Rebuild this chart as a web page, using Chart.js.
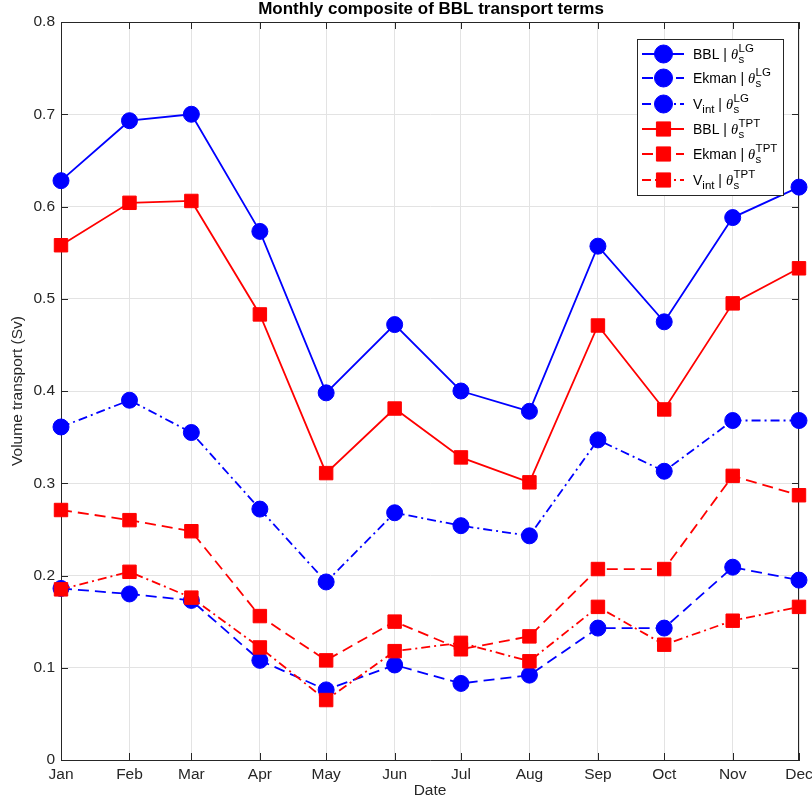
<!DOCTYPE html>
<html>
<head>
<meta charset="utf-8">
<script src="https://cdn.jsdelivr.net/npm/chart.js@4/dist/chart.umd.min.js"></script>
<style>
  html, body { margin: 0; padding: 0; background: #ffffff; }
  canvas { display: block; }
</style>
</head>
<body>
<canvas id="chart" width="812" height="804"></canvas>
<script>
// Month ticks sit on the first day of each month (day offset from 1 Jan)
const months = ['Jan', 'Feb', 'Mar', 'Apr', 'May', 'Jun', 'Jul', 'Aug', 'Sep', 'Oct', 'Nov', 'Dec'];
const monthStartDay = [0, 31, 59, 90, 120, 151, 181, 212, 243, 273, 304, 334];

const yTicks = [0, 0.1, 0.2, 0.3, 0.4, 0.5, 0.6, 0.7, 0.8];
const yTickLabels = ['0', '0.1', '0.2', '0.3', '0.4', '0.5', '0.6', '0.7', '0.8'];

// Monthly composites (Sv), theta_s from LG
const bblLG   = [0.628, 0.693, 0.700, 0.573, 0.398, 0.472, 0.400, 0.378, 0.557, 0.475, 0.588, 0.621];
const ekmanLG = [0.186, 0.180, 0.173, 0.108, 0.076, 0.103, 0.083, 0.092, 0.143, 0.143, 0.209, 0.195];
const vintLG  = [0.361, 0.390, 0.355, 0.272, 0.193, 0.268, 0.254, 0.243, 0.347, 0.313, 0.368, 0.368];

// Monthly composites (Sv), theta_s from TPT
const bblTPT   = [0.558, 0.604, 0.606, 0.483, 0.311, 0.381, 0.328, 0.301, 0.471, 0.380, 0.495, 0.533];
const ekmanTPT = [0.271, 0.260, 0.248, 0.156, 0.108, 0.150, 0.120, 0.134, 0.207, 0.207, 0.308, 0.287];
const vintTPT  = [0.185, 0.204, 0.176, 0.122, 0.065, 0.118, 0.127, 0.107, 0.166, 0.125, 0.151, 0.166];

const FONT = '"Liberation Sans", Arial, Helvetica, sans-serif';
const AXIS_COLOR = '#262626';
const BLUE = '#0000ff';
const RED = '#ff0000';
const DASHED = [11, 6];
const DASHDOT = [9, 4, 2, 4];

function series(values) {
  return monthStartDay.map((d, i) => ({ x: d, y: values[i] }));
}

function makeDataset(label, values, color, marker, dash, legendHead, legendHeadSub, legendSup, order) {
  const isRect = marker === 'rect';
  return {
    label: label,
    data: series(values),
    borderColor: color,
    backgroundColor: color,
    borderWidth: 1.8,
    borderDash: dash,
    pointStyle: marker,
    pointRadius: isRect ? 9.5 : 8,
    pointHoverRadius: isRect ? 9.5 : 8,
    pointBorderWidth: 1,
    pointBackgroundColor: color,
    pointBorderColor: color,
    tension: 0,
    fill: false,
    clip: false,
    order: order,
    legendHead: legendHead,
    legendHeadSub: legendHeadSub,
    legendSup: legendSup
  };
}

const datasets = [
  makeDataset('BBL | θs LG',   bblLG,    BLUE, 'circle', [],      'BBL',   null,  'LG',  6),
  makeDataset('Ekman | θs LG', ekmanLG,  BLUE, 'circle', DASHED,  'Ekman', null,  'LG',  5),
  makeDataset('Vint | θs LG',  vintLG,   BLUE, 'circle', DASHDOT, 'V',     'int', 'LG',  4),
  makeDataset('BBL | θs TPT',  bblTPT,   RED,  'rect',   [],      'BBL',   null,  'TPT', 3),
  makeDataset('Ekman | θs TPT', ekmanTPT, RED, 'rect',   DASHED,  'Ekman', null,  'TPT', 2),
  makeDataset('Vint | θs TPT', vintTPT,  RED,  'rect',   DASHDOT, 'V',     'int', 'TPT', 1)
];

// Frame, inward tick marks and axis titles
const framePlugin = {
  id: 'frame',
  beforeDatasetsDraw(chart) {
    const { ctx, chartArea: a, scales } = chart;
    ctx.save();
    ctx.strokeStyle = AXIS_COLOR;
    ctx.lineWidth = 1;
    ctx.beginPath();
    ctx.moveTo(a.left, a.top + 0.5); ctx.lineTo(a.right, a.top + 0.5);
    ctx.moveTo(a.right - 0.5, a.top); ctx.lineTo(a.right - 0.5, a.bottom);
    const tl = 7;
    monthStartDay.forEach(v => {
      const px = Math.round(scales.x.getPixelForValue(v)) + 0.5;
      ctx.moveTo(px, a.bottom); ctx.lineTo(px, a.bottom - tl);
      ctx.moveTo(px, a.top); ctx.lineTo(px, a.top + tl);
    });
    yTicks.forEach(v => {
      const py = Math.round(scales.y.getPixelForValue(v)) + 0.5;
      ctx.moveTo(a.left, py); ctx.lineTo(a.left + tl, py);
      ctx.moveTo(a.right, py); ctx.lineTo(a.right - tl, py);
    });
    ctx.stroke();
    ctx.restore();
  },
  afterDraw(chart) {
    const { ctx, chartArea: a } = chart;
    const cx = (a.left + a.right) / 2;
    ctx.save();
    ctx.fillStyle = '#000000';
    ctx.textAlign = 'center';
    ctx.textBaseline = 'alphabetic';
    ctx.font = 'bold 17px ' + FONT;
    ctx.fillText('Monthly composite of BBL transport terms', cx + 1, 14);

    ctx.fillStyle = AXIS_COLOR;
    ctx.font = '15.5px ' + FONT;
    ctx.textBaseline = 'middle';
    ctx.fillText('Date', cx, 791);
    ctx.translate(18, (a.top + a.bottom) / 2);
    ctx.rotate(-Math.PI / 2);
    ctx.fillText('Volume transport (Sv)', 0, 0);
    ctx.restore();
  }
};

// Legend box with theta_s sub/superscripts
const legendPlugin = {
  id: 'richLegend',
  afterDatasetsDraw(chart) {
    const { ctx } = chart;
    const box = { x: 637, y: 39, w: 146, h: 156 };
    const rowY = [54, 78, 104, 129, 154, 180];
    ctx.save();
    ctx.fillStyle = '#ffffff';
    ctx.fillRect(box.x, box.y, box.w, box.h);
    ctx.strokeStyle = AXIS_COLOR;
    ctx.lineWidth = 1;
    ctx.strokeRect(box.x + 0.5, box.y + 0.5, box.w, box.h);

    chart.data.datasets.forEach((ds, i) => {
      const y = rowY[i];
      // line sample
      ctx.save();
      ctx.strokeStyle = ds.borderColor;
      ctx.lineWidth = ds.borderWidth;
      ctx.setLineDash(ds.borderDash || []);
      ctx.beginPath();
      ctx.moveTo(642, y); ctx.lineTo(684, y);
      ctx.stroke();
      ctx.restore();
      // marker sample
      ctx.save();
      ctx.fillStyle = ds.pointBackgroundColor;
      ctx.strokeStyle = ds.pointBorderColor;
      ctx.lineWidth = 1;
      const r = ds.pointStyle === 'rect' ? 10 : 9;
      Chart.helpers.drawPoint(ctx, { pointStyle: ds.pointStyle, radius: r, borderWidth: 1, rotation: 0 }, 663.5, y);
      ctx.restore();

      // text
      const base = y + 5;
      let x = 693;
      ctx.fillStyle = '#000000';
      ctx.textAlign = 'left';
      ctx.textBaseline = 'alphabetic';
      ctx.font = '14px ' + FONT;
      ctx.fillText(ds.legendHead, x, base);
      x += ctx.measureText(ds.legendHead).width;
      if (ds.legendHeadSub) {
        ctx.font = '11.5px ' + FONT;
        ctx.fillText(ds.legendHeadSub, x, base + 4);
        x += ctx.measureText(ds.legendHeadSub).width;
      }
      ctx.font = '14px ' + FONT;
      ctx.fillText(' | ', x, base);
      x += ctx.measureText(' | ').width;
      ctx.font = 'italic 14.5px "Liberation Serif", "Times New Roman", serif';
      ctx.fillText('θ', x, base);
      x += ctx.measureText('θ').width + 0.5;
      ctx.font = '11.5px ' + FONT;
      ctx.fillText('s', x, base + 4);
      ctx.fillText(ds.legendSup, x, base - 7.5);
    });
    ctx.restore();
  }
};

new Chart(document.getElementById('chart'), {
  type: 'line',
  data: { datasets: datasets },
  options: {
    responsive: false,
    devicePixelRatio: 1,
    animation: false,
    events: [],
    layout: { padding: { top: 22, right: 13, left: 0, bottom: 0 } },
    plugins: {
      legend: { display: false },
      title: { display: false },
      tooltip: { enabled: false }
    },
    scales: {
      x: {
        type: 'linear',
        min: monthStartDay[0],
        max: monthStartDay[monthStartDay.length - 1],
        afterBuildTicks(scale) {
          scale.ticks = monthStartDay.map(v => ({ value: v }));
        },
        afterFit(scale) {
          scale.height = 44;
          scale.paddingLeft = 0;
          scale.paddingRight = 0;
        },
        grid: { color: '#e3e3e3', lineWidth: 1, drawTicks: false },
        border: { color: AXIS_COLOR, width: 1 },
        ticks: {
          autoSkip: false,
          maxRotation: 0,
          padding: 5,
          color: AXIS_COLOR,
          font: { family: FONT, size: 15.5 },
          callback: (v) => months[monthStartDay.indexOf(v)]
        }
      },
      y: {
        type: 'linear',
        min: 0,
        max: 0.8,
        afterBuildTicks(scale) {
          scale.ticks = yTicks.map(v => ({ value: v }));
        },
        afterFit(scale) {
          scale.width = 61;
          scale.paddingTop = 0;
          scale.paddingBottom = 0;
        },
        grid: { color: '#e3e3e3', lineWidth: 1, drawTicks: false },
        border: { color: AXIS_COLOR, width: 1 },
        ticks: {
          padding: 6,
          color: AXIS_COLOR,
          font: { family: FONT, size: 15.5 },
          callback: (v) => yTickLabels[yTicks.indexOf(v)]
        }
      }
    }
  },
  plugins: [framePlugin, legendPlugin]
});
</script>
</body>
</html>
